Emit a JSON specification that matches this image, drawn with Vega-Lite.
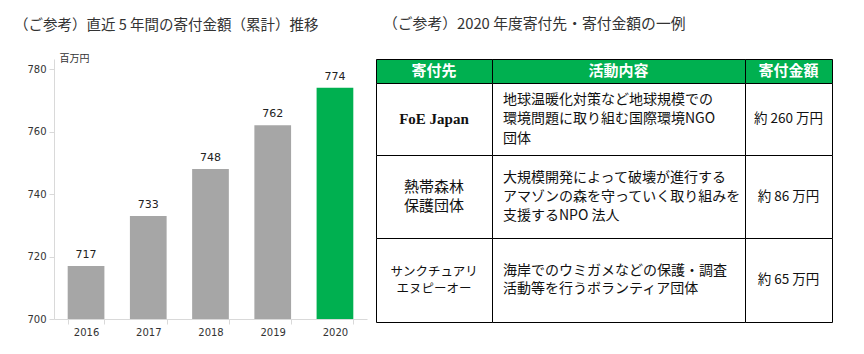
{
  "$schema": "https://vega.github.io/schema/vega-lite/v6.json",
  "background": "white",
  "padding": {"left": 14, "top": 16, "right": 0, "bottom": 0},
  "config": {"view": {"stroke": null}},
  "datasets": {
    "bars": [
      {"year": "2016", "amount": 717},
      {"year": "2017", "amount": 733},
      {"year": "2018", "amount": 748},
      {"year": "2019", "amount": 762},
      {"year": "2020", "amount": 774}
    ],
    "table": [
      {"row": "h", "col": "c1", "text": "寄付先"},
      {"row": "h", "col": "c2", "text": "活動内容"},
      {"row": "h", "col": "c3", "text": "寄付金額"},
      {"row": "r1", "col": "c1", "text": "FoE Japan"},
      {"row": "r1", "col": "c2", "text": "地球温暖化対策など地球規模での\n環境問題に取り組む国際環境NGO\n団体"},
      {"row": "r1", "col": "c3", "text": "約 260 万円"},
      {"row": "r2", "col": "c1", "text": "熱帯森林\n保護団体"},
      {"row": "r2", "col": "c2", "text": "大規模開発によって破壊が進行する\nアマゾンの森を守っていく取り組みを\n支援するNPO 法人"},
      {"row": "r2", "col": "c3", "text": "約 86 万円"},
      {"row": "r3", "col": "c1", "text": "サンクチュアリ\nエヌピーオー"},
      {"row": "r3", "col": "c2", "text": "海岸でのウミガメなどの保護・調査\n活動等を行うボランティア団体"},
      {"row": "r3", "col": "c3", "text": "約 65 万円"}
    ]
  },
  "spacing": 8,
  "hconcat": [
    {
      "width": 313,
      "height": 260,
      "data": {"name": "bars"},
      "title": {"text": "（ご参考）直近 5 年間の寄付金額（累計）推移", "anchor": "start", "frame": "group", "dx": -40, "offset": 20, "fontSize": 14.5, "font": "Noto Sans CJK JP", "fontWeight": "normal", "color": "#333"},
      "view": {"stroke": null},
      "encoding": {
        "x": {"field": "year", "type": "ordinal", "scale": {"paddingInner": 0.41, "paddingOuter": 0.22},
          "axis": {"title": null, "labelAngle": 0, "tickBand": "extent", "domainColor": "#d9d9d9", "tickColor": "#d9d9d9", "tickSize": 5, "labelFont": "DejaVu Sans", "labelFontSize": 10, "labelColor": "#333", "labelPadding": 3}},
        "y": {"field": "amount", "type": "quantitative", "scale": {"domain": [700, 783.2], "zero": false, "nice": false},
          "axis": {"values": [700, 720, 740, 760, 780], "grid": false, "domainColor": "#d9d9d9", "tickColor": "#d9d9d9", "tickSize": 5, "labelFont": "DejaVu Sans", "labelFontSize": 10, "labelColor": "#333", "labelPadding": 3, "title": "百万円", "titleAngle": 0, "titleAlign": "left", "titleBaseline": "alphabetic", "titleX": 5, "titleY": 2, "titleFont": "Noto Sans CJK JP", "titleFontSize": 10, "titleFontWeight": "normal", "titleColor": "#333"}}
      },
      "layer": [
        {"mark": {"type": "bar"}, "encoding": {"y2": {"datum": 700}, "color": {"condition": {"test": "datum.year == '2020'", "value": "#00b050"}, "value": "#a6a6a6"}}},
        {"mark": {"type": "text", "baseline": "alphabetic", "dy": -8, "font": "DejaVu Sans", "fontSize": 11, "color": "#222"}, "encoding": {"text": {"field": "amount", "type": "quantitative"}}}
      ]
    },
    {
      "title": {"text": "（ご参考）2020 年度寄付先・寄付金額の一例", "anchor": "start", "frame": "group", "dx": 7, "offset": 27, "fontSize": 14.8, "font": "Noto Sans CJK JP", "fontWeight": "normal", "color": "#333"},
      "columns": 3,
      "spacing": 0,
      "bounds": "flush",
      "align": "each",
      "concat": [
        {"width": 116, "height": 24, "data": {"name": "table"}, "view": {"stroke": "#000", "fill": "#00b050"}, "transform": [{"filter": "datum.row == 'h' && datum.col == 'c1'"}], "mark": {"type": "text", "font": "Noto Sans CJK JP", "fontWeight": "bold", "fontSize": 15, "color": "white", "baseline": "middle"}, "encoding": {"text": {"field": "text"}}},
        {"width": 253, "height": 24, "data": {"name": "table"}, "view": {"stroke": "#000", "fill": "#00b050"}, "transform": [{"filter": "datum.row == 'h' && datum.col == 'c2'"}], "mark": {"type": "text", "font": "Noto Sans CJK JP", "fontWeight": "bold", "fontSize": 15, "color": "white", "baseline": "middle"}, "encoding": {"text": {"field": "text"}}},
        {"width": 87, "height": 24, "data": {"name": "table"}, "view": {"stroke": "#000", "fill": "#00b050"}, "transform": [{"filter": "datum.row == 'h' && datum.col == 'c3'"}], "mark": {"type": "text", "font": "Noto Sans CJK JP", "fontWeight": "bold", "fontSize": 15, "color": "white", "baseline": "middle"}, "encoding": {"text": {"field": "text"}}},
        {"width": 116, "height": 72, "data": {"name": "table"}, "view": {"stroke": "#000", "fill": "white"}, "transform": [{"filter": "datum.row == 'r1' && datum.col == 'c1'"}], "mark": {"type": "text", "font": "Liberation Serif", "fontWeight": "bold", "fontSize": 15, "color": "#111", "baseline": "middle"}, "encoding": {"text": {"field": "text"}}},
        {"width": 253, "height": 72, "data": {"name": "table"}, "view": {"stroke": "#000", "fill": "white"}, "transform": [{"filter": "datum.row == 'r1' && datum.col == 'c2'"}], "mark": {"type": "text", "font": "Noto Sans CJK JP", "fontSize": 14, "color": "#111", "align": "left", "dx": 11, "dy": -19.5, "baseline": "middle", "lineBreak": "\n", "lineHeight": 19.5}, "encoding": {"x": {"datum": 0, "type": "quantitative", "scale": {"domain": [0, 1]}, "axis": null}, "text": {"field": "text"}}},
        {"width": 87, "height": 72, "data": {"name": "table"}, "view": {"stroke": "#000", "fill": "white"}, "transform": [{"filter": "datum.row == 'r1' && datum.col == 'c3'"}], "mark": {"type": "text", "font": "Noto Sans CJK JP", "fontSize": 13.5, "color": "#111", "baseline": "middle"}, "encoding": {"text": {"field": "text"}}},
        {"width": 116, "height": 83, "data": {"name": "table"}, "view": {"stroke": "#000", "fill": "white"}, "transform": [{"filter": "datum.row == 'r2' && datum.col == 'c1'"}], "mark": {"type": "text", "font": "Noto Sans CJK JP", "fontSize": 15, "color": "#111", "baseline": "middle", "dy": -9.5, "lineBreak": "\n", "lineHeight": 19}, "encoding": {"text": {"field": "text"}}},
        {"width": 253, "height": 83, "data": {"name": "table"}, "view": {"stroke": "#000", "fill": "white"}, "transform": [{"filter": "datum.row == 'r2' && datum.col == 'c2'"}], "mark": {"type": "text", "font": "Noto Sans CJK JP", "fontSize": 14, "color": "#111", "align": "left", "dx": 11, "dy": -19, "baseline": "middle", "lineBreak": "\n", "lineHeight": 19}, "encoding": {"x": {"datum": 0, "type": "quantitative", "scale": {"domain": [0, 1]}, "axis": null}, "text": {"field": "text"}}},
        {"width": 87, "height": 83, "data": {"name": "table"}, "view": {"stroke": "#000", "fill": "white"}, "transform": [{"filter": "datum.row == 'r2' && datum.col == 'c3'"}], "mark": {"type": "text", "font": "Noto Sans CJK JP", "fontSize": 13.5, "color": "#111", "baseline": "middle"}, "encoding": {"text": {"field": "text"}}},
        {"width": 116, "height": 84, "data": {"name": "table"}, "view": {"stroke": "#000", "fill": "white"}, "transform": [{"filter": "datum.row == 'r3' && datum.col == 'c1'"}], "mark": {"type": "text", "font": "Noto Sans CJK JP", "fontSize": 12.5, "color": "#111", "baseline": "middle", "dy": -8.5, "lineBreak": "\n", "lineHeight": 17}, "encoding": {"text": {"field": "text"}}},
        {"width": 253, "height": 84, "data": {"name": "table"}, "view": {"stroke": "#000", "fill": "white"}, "transform": [{"filter": "datum.row == 'r3' && datum.col == 'c2'"}], "mark": {"type": "text", "font": "Noto Sans CJK JP", "fontSize": 14, "color": "#111", "align": "left", "dx": 11, "dy": -9, "baseline": "middle", "lineBreak": "\n", "lineHeight": 18}, "encoding": {"x": {"datum": 0, "type": "quantitative", "scale": {"domain": [0, 1]}, "axis": null}, "text": {"field": "text"}}},
        {"width": 87, "height": 84, "data": {"name": "table"}, "view": {"stroke": "#000", "fill": "white"}, "transform": [{"filter": "datum.row == 'r3' && datum.col == 'c3'"}], "mark": {"type": "text", "font": "Noto Sans CJK JP", "fontSize": 13.5, "color": "#111", "baseline": "middle"}, "encoding": {"text": {"field": "text"}}}
      ]
    }
  ]
}
